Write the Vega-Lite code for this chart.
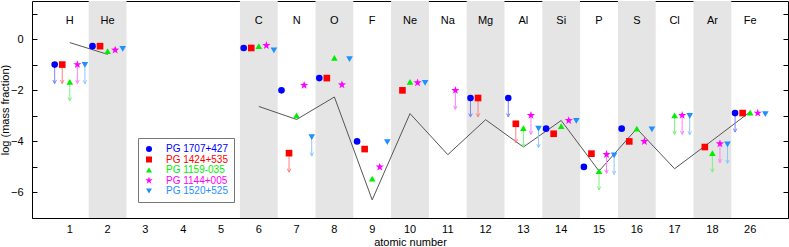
{
  "$schema": "https://vega.github.io/schema/vega-lite/v6.json",
  "width": 756,
  "height": 217,
  "autosize": "none",
  "padding": {"left": 32, "top": 1, "right": 1, "bottom": 29},
  "config": {
    "font": "Liberation Sans",
    "view": {"stroke": "#000", "strokeWidth": 1},
    "axis": {"labelFont": "Liberation Sans", "titleFont": "Liberation Sans", "labelColor": "#000", "titleColor": "#000", "labelFontSize": 11, "titleFontSize": 11, "titleFontWeight": "normal", "grid": false},
    "legend": {"labelFont": "Liberation Sans", "labelFontSize": 10}
  },
  "datasets": {
    "obs": [
      {"Z": 1, "star": "PG 1707+427", "v": -0.99, "lim": true},
      {"Z": 1, "star": "PG 1424+535", "v": -0.99, "lim": true},
      {"Z": 1, "star": "PG 1159-035", "v": -1.67, "lim": true},
      {"Z": 1, "star": "PG 1144+005", "v": -0.99, "lim": true},
      {"Z": 1, "star": "PG 1520+525", "v": -1.0, "lim": true},
      {"Z": 2, "star": "PG 1707+427", "v": -0.27, "lim": false},
      {"Z": 2, "star": "PG 1424+535", "v": -0.27, "lim": false},
      {"Z": 2, "star": "PG 1159-035", "v": -0.46, "lim": false},
      {"Z": 2, "star": "PG 1144+005", "v": -0.42, "lim": false},
      {"Z": 2, "star": "PG 1520+525", "v": -0.38, "lim": false},
      {"Z": 6, "star": "PG 1707+427", "v": -0.34, "lim": false},
      {"Z": 6, "star": "PG 1424+535", "v": -0.34, "lim": false},
      {"Z": 6, "star": "PG 1159-035", "v": -0.27, "lim": false},
      {"Z": 6, "star": "PG 1144+005", "v": -0.24, "lim": false},
      {"Z": 6, "star": "PG 1520+525", "v": -0.43, "lim": false},
      {"Z": 7, "star": "PG 1707+427", "v": -2.0, "lim": false},
      {"Z": 7, "star": "PG 1424+535", "v": -4.46, "lim": true},
      {"Z": 7, "star": "PG 1159-035", "v": -2.98, "lim": false},
      {"Z": 7, "star": "PG 1144+005", "v": -1.8, "lim": false},
      {"Z": 7, "star": "PG 1520+525", "v": -3.83, "lim": true},
      {"Z": 8, "star": "PG 1707+427", "v": -1.52, "lim": false},
      {"Z": 8, "star": "PG 1424+535", "v": -1.52, "lim": false},
      {"Z": 8, "star": "PG 1159-035", "v": -0.73, "lim": false},
      {"Z": 8, "star": "PG 1144+005", "v": -1.78, "lim": false},
      {"Z": 8, "star": "PG 1520+525", "v": -0.78, "lim": false},
      {"Z": 9, "star": "PG 1707+427", "v": -4.0, "lim": false},
      {"Z": 9, "star": "PG 1424+535", "v": -4.3, "lim": false},
      {"Z": 9, "star": "PG 1159-035", "v": -5.46, "lim": false},
      {"Z": 9, "star": "PG 1144+005", "v": -5.0, "lim": false},
      {"Z": 9, "star": "PG 1520+525", "v": -4.03, "lim": false},
      {"Z": 10, "star": "PG 1424+535", "v": -2.0, "lim": false},
      {"Z": 10, "star": "PG 1159-035", "v": -1.67, "lim": false},
      {"Z": 10, "star": "PG 1144+005", "v": -1.7, "lim": false},
      {"Z": 10, "star": "PG 1520+525", "v": -1.71, "lim": false},
      {"Z": 11, "star": "PG 1144+005", "v": -2.0, "lim": true},
      {"Z": 12, "star": "PG 1707+427", "v": -2.3, "lim": true},
      {"Z": 12, "star": "PG 1424+535", "v": -2.3, "lim": true},
      {"Z": 13, "star": "PG 1707+427", "v": -2.3, "lim": true},
      {"Z": 13, "star": "PG 1424+535", "v": -3.31, "lim": true},
      {"Z": 13, "star": "PG 1159-035", "v": -3.48, "lim": true},
      {"Z": 13, "star": "PG 1144+005", "v": -2.98, "lim": true},
      {"Z": 13, "star": "PG 1520+525", "v": -3.5, "lim": true},
      {"Z": 14, "star": "PG 1707+427", "v": -3.5, "lim": false},
      {"Z": 14, "star": "PG 1424+535", "v": -3.7, "lim": false},
      {"Z": 14, "star": "PG 1159-035", "v": -3.4, "lim": false},
      {"Z": 14, "star": "PG 1144+005", "v": -3.18, "lim": false},
      {"Z": 14, "star": "PG 1520+525", "v": -3.2, "lim": false},
      {"Z": 15, "star": "PG 1707+427", "v": -5.0, "lim": false},
      {"Z": 15, "star": "PG 1424+535", "v": -4.48, "lim": false},
      {"Z": 15, "star": "PG 1159-035", "v": -5.16, "lim": true},
      {"Z": 15, "star": "PG 1144+005", "v": -4.51, "lim": true},
      {"Z": 15, "star": "PG 1520+525", "v": -4.55, "lim": true},
      {"Z": 16, "star": "PG 1707+427", "v": -3.5, "lim": false},
      {"Z": 16, "star": "PG 1424+535", "v": -4.0, "lim": false},
      {"Z": 16, "star": "PG 1159-035", "v": -3.5, "lim": false},
      {"Z": 16, "star": "PG 1144+005", "v": -4.0, "lim": false},
      {"Z": 16, "star": "PG 1520+525", "v": -3.53, "lim": false},
      {"Z": 17, "star": "PG 1159-035", "v": -2.98, "lim": true},
      {"Z": 17, "star": "PG 1144+005", "v": -2.98, "lim": true},
      {"Z": 17, "star": "PG 1520+525", "v": -3.0, "lim": true},
      {"Z": 18, "star": "PG 1424+535", "v": -4.22, "lim": false},
      {"Z": 18, "star": "PG 1159-035", "v": -4.46, "lim": true},
      {"Z": 18, "star": "PG 1144+005", "v": -4.09, "lim": true},
      {"Z": 18, "star": "PG 1520+525", "v": -4.12, "lim": true},
      {"Z": 26, "star": "PG 1707+427", "v": -2.89, "lim": true},
      {"Z": 26, "star": "PG 1424+535", "v": -2.89, "lim": false},
      {"Z": 26, "star": "PG 1159-035", "v": -2.87, "lim": false},
      {"Z": 26, "star": "PG 1144+005", "v": -2.89, "lim": false},
      {"Z": 26, "star": "PG 1520+525", "v": -2.93, "lim": false}
    ],
    "sun": [
      {"Z": 1, "v": -0.13, "seg": "a"},
      {"Z": 2, "v": -0.59, "seg": "a"},
      {"Z": 6, "v": -2.63, "seg": "b"},
      {"Z": 7, "v": -3.14, "seg": "b"},
      {"Z": 8, "v": -2.26, "seg": "b"},
      {"Z": 9, "v": -6.29, "seg": "b"},
      {"Z": 10, "v": -2.91, "seg": "b"},
      {"Z": 11, "v": -4.52, "seg": "b"},
      {"Z": 12, "v": -3.15, "seg": "b"},
      {"Z": 13, "v": -4.22, "seg": "b"},
      {"Z": 14, "v": -3.18, "seg": "b"},
      {"Z": 15, "v": -5.16, "seg": "b"},
      {"Z": 16, "v": -3.5, "seg": "b"},
      {"Z": 17, "v": -5.07, "seg": "b"},
      {"Z": 18, "v": -3.96, "seg": "b"},
      {"Z": 26, "v": -2.84, "seg": "b"}
    ],
    "elems": [
      {"Z": 1, "el": "H", "shade": false},
      {"Z": 2, "el": "He", "shade": true},
      {"Z": 6, "el": "C", "shade": true},
      {"Z": 7, "el": "N", "shade": false},
      {"Z": 8, "el": "O", "shade": true},
      {"Z": 9, "el": "F", "shade": false},
      {"Z": 10, "el": "Ne", "shade": true},
      {"Z": 11, "el": "Na", "shade": false},
      {"Z": 12, "el": "Mg", "shade": true},
      {"Z": 13, "el": "Al", "shade": false},
      {"Z": 14, "el": "Si", "shade": true},
      {"Z": 15, "el": "P", "shade": false},
      {"Z": 16, "el": "S", "shade": true},
      {"Z": 17, "el": "Cl", "shade": false},
      {"Z": 18, "el": "Ar", "shade": true},
      {"Z": 26, "el": "Fe", "shade": false}
    ]
  },
  "encoding": {
    "x": {
      "field": "Z", "type": "ordinal",
      "scale": {"domain": [1,2,3,4,5,6,7,8,9,10,11,12,13,14,15,16,17,18,26], "paddingInner": 0, "paddingOuter": 0.5},
      "axis": {"title": "atomic number", "labelAngle": 0, "ticks": false, "domain": false, "labelPadding": 5, "titlePadding": 2}
    }
  },
  "resolve": {"axis": {"y": "independent"}},
  "layer": [
    {
      "data": {"name": "elems"},
      "transform": [{"filter": "datum.shade"}],
      "mark": {"type": "rect", "color": "#e5e5e5"}
    },
    {
      "data": {"name": "elems"},
      "mark": {"type": "text", "fontSize": 11, "color": "#000"},
      "encoding": {
        "y": {"datum": 0.7, "type": "quantitative", "scale": {"domain": [-7, 1.5], "nice": false, "zero": false}, "axis": null},
        "text": {"field": "el"}
      }
    },
    {
      "data": {"name": "sun"},
      "mark": {"type": "line", "color": "#555", "strokeWidth": 1},
      "encoding": {
        "y": {"field": "v", "type": "quantitative", "scale": {"domain": [-7, 1.5], "nice": false, "zero": false},
          "axis": {"orient": "right", "labels": false, "title": null, "domain": false, "values": [-7,-6,-5,-4,-3,-2,-1,0,1], "tickSize": -5, "tickColor": "#000"}},
        "detail": {"field": "seg"}
      }
    },
    {
      "data": {"name": "obs"},
      "transform": [{"filter": "datum.lim"}, {"calculate": "datum.star", "as": "arrowStar"}],
      "mark": {"type": "rule", "strokeWidth": 1, "y2Offset": 19},
      "encoding": {
        "xOffset": {"field": "star", "scale": {"domain": ["PG 1707+427", "PG 1424+535", "PG 1159-035", "PG 1144+005", "PG 1520+525"], "paddingInner": 0, "paddingOuter": 0}},
        "y": {"field": "v", "type": "quantitative", "scale": {"domain": [-7, 1.5], "nice": false, "zero": false}, "axis": null},
        "y2": {"field": "v"},
        "stroke": {"field": "arrowStar", "type": "nominal", "scale": {"range": ["#ff80ff", "#80f080", "#ff8080", "#8fc7ff", "#8080ff"]}, "legend": null}
      }
    },
    {
      "data": {"name": "obs"},
      "transform": [{"filter": "datum.lim"}, {"calculate": "datum.star", "as": "arrowStar"}],
      "mark": {"type": "point", "shape": "M-0.7,-1.4L0,0L0.7,-1.4", "filled": false, "size": 25, "strokeWidth": 1, "yOffset": 19, "opacity": 1},
      "encoding": {
        "xOffset": {"field": "star", "scale": {"domain": ["PG 1707+427", "PG 1424+535", "PG 1159-035", "PG 1144+005", "PG 1520+525"], "paddingInner": 0, "paddingOuter": 0}},
        "y": {"field": "v", "type": "quantitative", "scale": {"domain": [-7, 1.5], "nice": false, "zero": false}, "axis": null},
        "stroke": {"field": "arrowStar", "type": "nominal", "legend": null}
      }
    },
    {
      "data": {"name": "obs"},
      "mark": {"type": "point", "filled": true, "size": 44, "opacity": 1},
      "encoding": {
        "xOffset": {"field": "star", "scale": {"domain": ["PG 1707+427", "PG 1424+535", "PG 1159-035", "PG 1144+005", "PG 1520+525"], "paddingInner": 0, "paddingOuter": 0}},
        "y": {"field": "v", "type": "quantitative", "scale": {"domain": [-7, 1.5], "nice": false, "zero": false},
          "axis": {"title": "log (mass fraction)", "values": [-7,-6,-5,-4,-3,-2,-1,0,1], "labelExpr": "datum.value % 2 == 0 ? datum.label : ''", "tickSize": -5, "tickColor": "#000", "domain": false, "labelPadding": 14, "titlePadding": 0}},
        "color": {"field": "star", "type": "nominal", "title": null,
          "scale": {"domain": ["PG 1707+427", "PG 1424+535", "PG 1159-035", "PG 1144+005", "PG 1520+525"], "range": ["#0000ff", "#ff0000", "#00ee00", "#ff00ff", "#1e90ff"]},
          "legend": {"orient": "none", "legendX": 106, "legendY": 137, "padding": 6, "strokeColor": "#777", "fillColor": "#fff", "symbolSize": 36, "rowPadding": 0.5, "labelOffset": 12,
            "labelColor": {"expr": "scale('color', datum.value)"}}},
        "shape": {"field": "star", "type": "nominal", "title": null,
          "scale": {"domain": ["PG 1707+427", "PG 1424+535", "PG 1159-035", "PG 1144+005", "PG 1520+525"], "range": ["circle", "square", "triangle-up", "M0,-1.3L0.3,-0.42L1.24,-0.4L0.49,0.16L0.76,1.05L0,0.52L-0.76,1.05L-0.49,0.16L-1.24,-0.4L-0.3,-0.42Z", "triangle-down"]}}
      }
    }
  ]
}
